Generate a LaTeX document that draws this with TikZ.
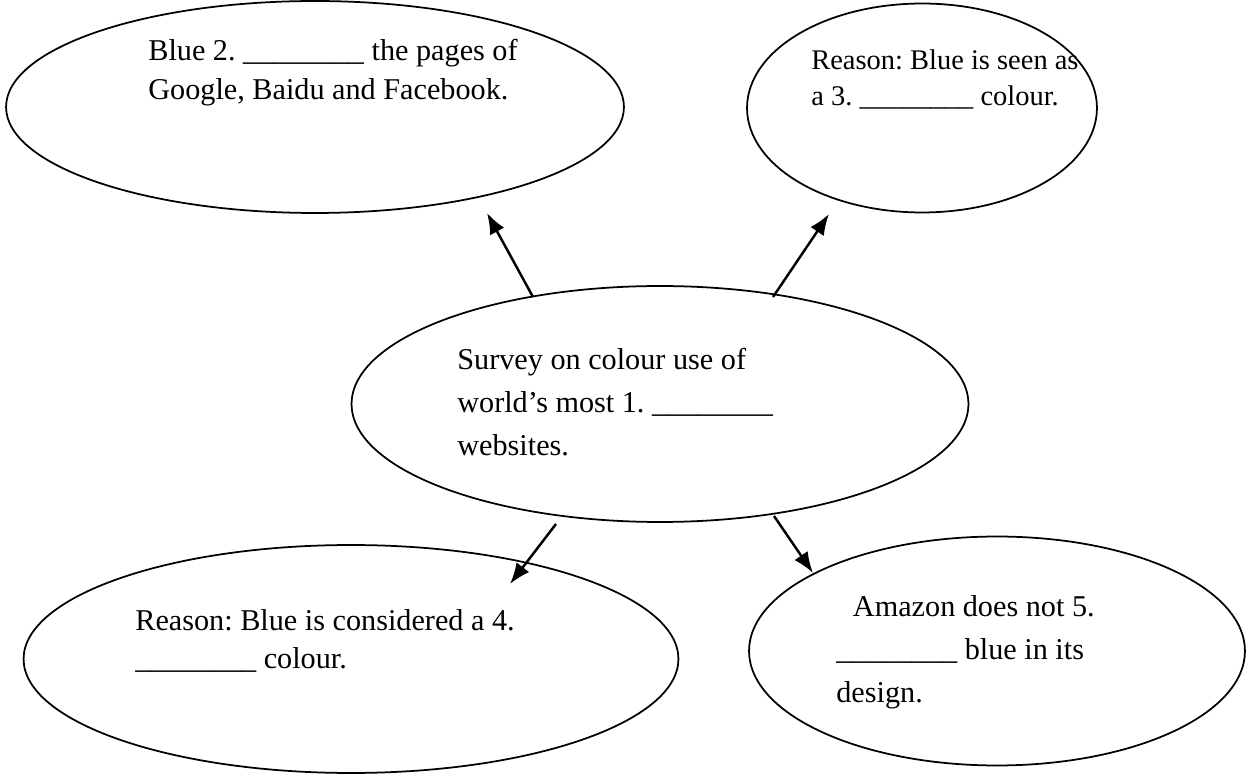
\documentclass[tikz,border=0pt]{standalone}
\usepackage{fontspec}
\setmainfont{Liberation Serif}
\usetikzlibrary{shapes.geometric,arrows.meta}
\frenchspacing

\begin{document}
\begin{tikzpicture}[x=0.02cm,y=-0.02cm,
  bubble/.style={draw,ellipse,line width=1pt,inner sep=0pt},
  txt/.style={anchor=base west,align=left,inner sep=0pt},
  arr/.style={-{Latex[length=0.42cm,width=0.32cm]},line width=1.4pt}]
  \useasboundingbox (0,0) rectangle (1248,776);
  % ellipses
  \node[bubble,minimum width=12.36cm,minimum height=4.24cm] (e1) at (315,107) {};
  \node[bubble,minimum width=7cm,minimum height=4.18cm] (e2) at (922,108) {};
  \node[bubble,minimum width=12.34cm,minimum height=4.72cm] (e3) at (660,404) {};
  \node[bubble,minimum width=13.1cm,minimum height=4.56cm] (e4) at (351,659) {};
  \node[bubble,minimum width=9.92cm,minimum height=4.58cm] (e5) at (997,651) {};
  % texts (anchored on the baseline of the last line)
  \node[txt,font=\fontsize{17.2}{22.2}\selectfont] (t1) at (148,100) {Blue 2. \_\_\_\_\_\_\_\_ the pages of\\Google, Baidu and Facebook.};
  \node[txt,font=\fontsize{16.2}{20.5}\selectfont] (t2) at (811,106) {Reason: Blue is seen as\\a 3. \_\_\_\_\_\_\_\_ colour.};
  \node[txt,font=\fontsize{17.2}{24.7}\selectfont] (t3) at (457,456) {Survey on colour use of\\world’s most 1. \_\_\_\_\_\_\_\_\\websites.};
  \node[txt,font=\fontsize{17.2}{21.4}\selectfont] (t4) at (135,668) {Reason: Blue is considered a 4.\\\_\_\_\_\_\_\_\_ colour.};
  \node[txt,font=\fontsize{17.2}{24.5}\selectfont] (t5) at (836,703) {\hspace*{0.55em}Amazon does not 5.\\\_\_\_\_\_\_\_\_ blue in its\\design.};
  % arrows
  \coordinate (s1) at (533,297);
  \coordinate (h1) at (487,213);
  \coordinate (s2) at (773,297);
  \coordinate (h2) at (829,214);
  \coordinate (s3) at (556,524);
  \coordinate (h3) at (510,584);
  \coordinate (s4) at (774,516);
  \coordinate (h4) at (813,573);
  \draw[arr] (s1) -- (h1);
  \draw[arr] (s2) -- (h2);
  \draw[arr] (s3) -- (h3);
  \draw[arr] (s4) -- (h4);
\end{tikzpicture}
\end{document}
